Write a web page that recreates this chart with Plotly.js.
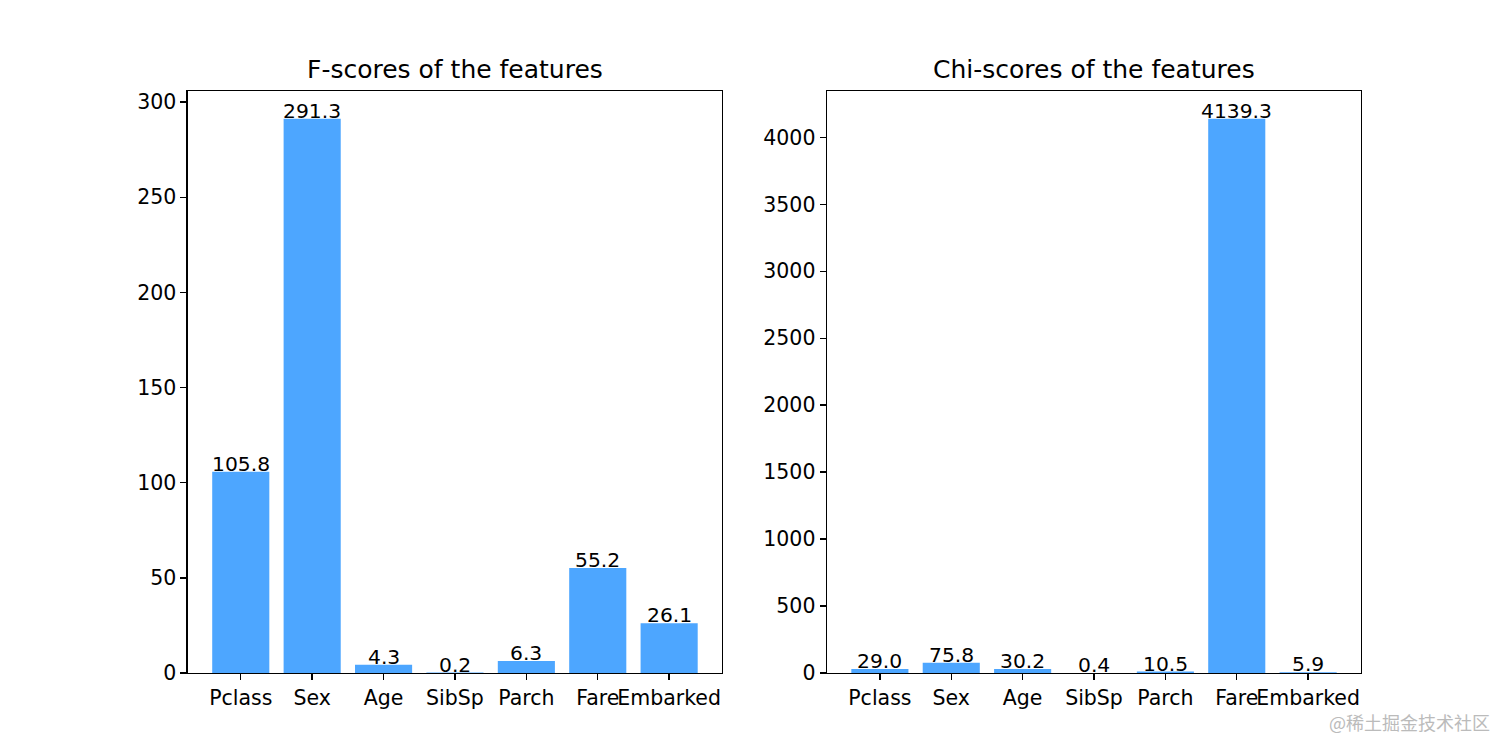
<!DOCTYPE html>
<html>
<head>
<meta charset="utf-8">
<script src="https://cdn.plot.ly/plotly-3.0.1.min.js"></script>
<style>html,body{margin:0;padding:0;background:#fff;}#chart{width:1512px;height:756px;}</style>
</head>
<body>
<div id="chart"></div>
<script>
const features = ["Pclass", "Sex", "Age", "SibSp", "Parch", "Fare", "Embarked"];
const fScores = [105.8, 291.3, 4.3, 0.2, 6.3, 55.2, 26.1];
const chiScores = [29.0, 75.8, 30.2, 0.4, 10.5, 4139.3, 5.9];
const fTicks = [0, 50, 100, 150, 200, 250, 300];
const chiTicks = [0, 500, 1000, 1500, 2000, 2500, 3000, 3500, 4000];
const titles = ["F-scores of the features", "Chi-scores of the features"];

const barColor = "#4da6ff";
const fontFam = "DejaVu Sans, sans-serif";
const idx = features.map((_, i) => i);

const traces = [
  {type: "bar", x: idx, y: fScores, xaxis: "x", yaxis: "y", width: 0.8,
   marker: {color: barColor}, hoverinfo: "none"},
  {type: "bar", x: idx, y: chiScores, xaxis: "x2", yaxis: "y2", width: 0.8,
   marker: {color: barColor}, hoverinfo: "none"}
];

const annotations = [];
function addLabels(vals, xref, yref) {
  vals.forEach((v, i) => {
    annotations.push({x: i, y: v, xref: xref, yref: yref, text: v.toFixed(1),
      showarrow: false, xanchor: "center", yanchor: "bottom", yshift: -6,
      font: {family: fontFam, size: 20.3, color: "#000"}});
  });
}
addLabels(fScores, "x", "y");
addLabels(chiScores, "x2", "y2");

annotations.push({x: (0.1243 + 0.4775) / 2, y: 0.9087, xref: "paper", yref: "paper",
  text: titles[0], showarrow: false, xanchor: "center", yanchor: "middle",
  font: {family: fontFam, size: 25, color: "#000"}});
annotations.push({x: (0.547 + 0.9001) / 2, y: 0.9087, xref: "paper", yref: "paper",
  text: titles[1], showarrow: false, xanchor: "center", yanchor: "middle",
  font: {family: fontFam, size: 25, color: "#000"}});
annotations.push({x: 0.987, y: 0.045, xref: "paper", yref: "paper",
  text: "@稀土掘金技术社区", showarrow: false, xanchor: "right", yanchor: "middle",
  font: {family: "Noto Sans CJK SC, sans-serif", size: 18, color: "#bbbbbb"}});

const xCommon = {
  range: [-0.74, 6.74], tickvals: idx, ticktext: features, tickangle: 0,
  ticks: "outside", ticklen: 6, tickwidth: 1.4, tickcolor: "#000",
  showline: true, linecolor: "#000", linewidth: 1.5, mirror: true,
  showgrid: false, zeroline: false, fixedrange: true,
  tickfont: {family: fontFam, size: 20.5, color: "#000"}
};
const yCommon = {
  ticks: "outside", ticklen: 6, tickwidth: 1.4, tickcolor: "#000",
  showline: true, linecolor: "#000", linewidth: 1.5, mirror: true,
  showgrid: false, zeroline: false, fixedrange: true,
  domain: [0.1098, 0.8796],
  tickfont: {family: fontFam, size: 20.5, color: "#000"}
};

const layout = {
  width: 1512, height: 756,
  margin: {l: 0, r: 0, t: 0, b: 0},
  paper_bgcolor: "#fff", plot_bgcolor: "#fff",
  showlegend: false,
  xaxis: Object.assign({}, xCommon, {domain: [0.1243, 0.4775], anchor: "y"}),
  yaxis: Object.assign({}, yCommon, {range: [0, 291.3 * 1.05], tickvals: fTicks, anchor: "x"}),
  xaxis2: Object.assign({}, xCommon, {domain: [0.547, 0.9001], anchor: "y2"}),
  yaxis2: Object.assign({}, yCommon, {range: [0, 4139.3 * 1.05], tickvals: chiTicks, anchor: "x2"}),
  annotations: annotations
};

Plotly.newPlot("chart", traces, layout, {displayModeBar: false, staticPlot: true});
</script>
</body>
</html>
